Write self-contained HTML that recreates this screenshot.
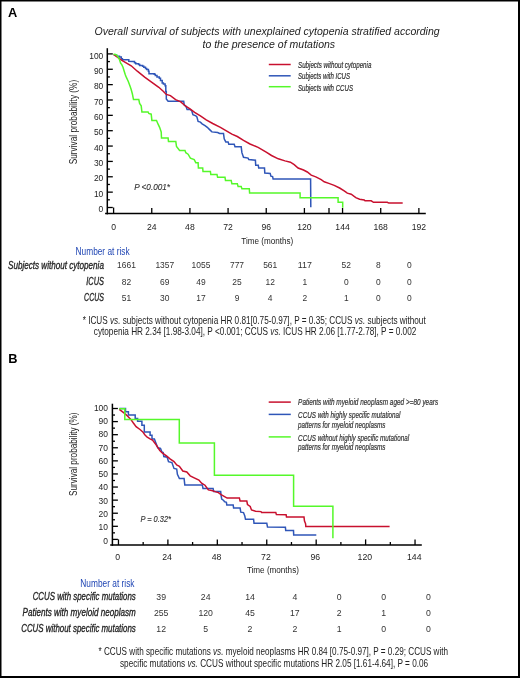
<!DOCTYPE html>
<html><head><meta charset="utf-8"><style>
html,body{margin:0;padding:0;background:#fff;width:520px;height:678px;overflow:hidden;}
#w{width:520px;height:678px;will-change:transform;filter:none;}
svg{display:block;font-family:"Liberation Sans",sans-serif;}
</style></head><body><div id="w">
<svg width="520" height="678" viewBox="0 0 520 678">
<g>
<rect x="0.75" y="0.75" width="518" height="676" fill="#fff" stroke="#000" stroke-width="1.5"/>
<line x1="0" y1="677" x2="520" y2="677" stroke="#000" stroke-width="2"/>
<line x1="519.1" y1="0" x2="519.1" y2="678" stroke="#000" stroke-width="1.8"/>
<text x="8" y="17.1" font-size="12.8" text-anchor="start" font-weight="bold" fill="#000">A</text>
<text x="8.3" y="362.7" font-size="12.8" text-anchor="start" font-weight="bold" fill="#000">B</text>
<text x="94.6" y="35.4" font-size="10.5" text-anchor="start" font-style="italic" textLength="345" lengthAdjust="spacingAndGlyphs" fill="#222">Overall survival of subjects with unexplained cytopenia stratified according</text>
<text x="202.5" y="47.6" font-size="10.5" text-anchor="start" font-style="italic" textLength="132.6" lengthAdjust="spacingAndGlyphs" fill="#222">to the presence of mutations</text>
<line x1="107.3" y1="48.2" x2="107.3" y2="214.35" stroke="#000" stroke-width="1.5"/>
<line x1="105.1" y1="213.6" x2="425.8" y2="213.6" stroke="#000" stroke-width="1.5"/>
<line x1="107.3" y1="207.50" x2="112.8" y2="207.50" stroke="#000" stroke-width="1.3"/>
<line x1="107.3" y1="199.82" x2="109.89999999999999" y2="199.82" stroke="#000" stroke-width="1.3"/>
<text x="103.3" y="212.10" font-size="9.4" text-anchor="end" textLength="4.7" lengthAdjust="spacingAndGlyphs" fill="#222">0</text>
<line x1="107.3" y1="192.14" x2="112.8" y2="192.14" stroke="#000" stroke-width="1.3"/>
<line x1="107.3" y1="184.46" x2="109.89999999999999" y2="184.46" stroke="#000" stroke-width="1.3"/>
<text x="103.3" y="196.75" font-size="9.4" text-anchor="end" textLength="9.4" lengthAdjust="spacingAndGlyphs" fill="#222">10</text>
<line x1="107.3" y1="176.78" x2="112.8" y2="176.78" stroke="#000" stroke-width="1.3"/>
<line x1="107.3" y1="169.10" x2="109.89999999999999" y2="169.10" stroke="#000" stroke-width="1.3"/>
<text x="103.3" y="181.40" font-size="9.4" text-anchor="end" textLength="9.4" lengthAdjust="spacingAndGlyphs" fill="#222">20</text>
<line x1="107.3" y1="161.42" x2="112.8" y2="161.42" stroke="#000" stroke-width="1.3"/>
<line x1="107.3" y1="153.74" x2="109.89999999999999" y2="153.74" stroke="#000" stroke-width="1.3"/>
<text x="103.3" y="166.05" font-size="9.4" text-anchor="end" textLength="9.4" lengthAdjust="spacingAndGlyphs" fill="#222">30</text>
<line x1="107.3" y1="146.06" x2="112.8" y2="146.06" stroke="#000" stroke-width="1.3"/>
<line x1="107.3" y1="138.38" x2="109.89999999999999" y2="138.38" stroke="#000" stroke-width="1.3"/>
<text x="103.3" y="150.70" font-size="9.4" text-anchor="end" textLength="9.4" lengthAdjust="spacingAndGlyphs" fill="#222">40</text>
<line x1="107.3" y1="130.70" x2="112.8" y2="130.70" stroke="#000" stroke-width="1.3"/>
<line x1="107.3" y1="123.02" x2="109.89999999999999" y2="123.02" stroke="#000" stroke-width="1.3"/>
<text x="103.3" y="135.35" font-size="9.4" text-anchor="end" textLength="9.4" lengthAdjust="spacingAndGlyphs" fill="#222">50</text>
<line x1="107.3" y1="115.34" x2="112.8" y2="115.34" stroke="#000" stroke-width="1.3"/>
<line x1="107.3" y1="107.66" x2="109.89999999999999" y2="107.66" stroke="#000" stroke-width="1.3"/>
<text x="103.3" y="120.00" font-size="9.4" text-anchor="end" textLength="9.4" lengthAdjust="spacingAndGlyphs" fill="#222">60</text>
<line x1="107.3" y1="99.98" x2="112.8" y2="99.98" stroke="#000" stroke-width="1.3"/>
<line x1="107.3" y1="92.30" x2="109.89999999999999" y2="92.30" stroke="#000" stroke-width="1.3"/>
<text x="103.3" y="104.65" font-size="9.4" text-anchor="end" textLength="9.4" lengthAdjust="spacingAndGlyphs" fill="#222">70</text>
<line x1="107.3" y1="84.62" x2="112.8" y2="84.62" stroke="#000" stroke-width="1.3"/>
<line x1="107.3" y1="76.94" x2="109.89999999999999" y2="76.94" stroke="#000" stroke-width="1.3"/>
<text x="103.3" y="89.30" font-size="9.4" text-anchor="end" textLength="9.4" lengthAdjust="spacingAndGlyphs" fill="#222">80</text>
<line x1="107.3" y1="69.26" x2="112.8" y2="69.26" stroke="#000" stroke-width="1.3"/>
<line x1="107.3" y1="61.58" x2="109.89999999999999" y2="61.58" stroke="#000" stroke-width="1.3"/>
<text x="103.3" y="73.95" font-size="9.4" text-anchor="end" textLength="9.4" lengthAdjust="spacingAndGlyphs" fill="#222">90</text>
<line x1="107.3" y1="53.90" x2="112.8" y2="53.90" stroke="#000" stroke-width="1.3"/>
<text x="103.3" y="58.60" font-size="9.4" text-anchor="end" textLength="14.1" lengthAdjust="spacingAndGlyphs" fill="#222">100</text>
<line x1="113.60" y1="207.50" x2="113.60" y2="213.5" stroke="#000" stroke-width="1.3"/>
<text x="113.60" y="230.4" font-size="9.2" text-anchor="middle" textLength="4.8" lengthAdjust="spacingAndGlyphs" fill="#222">0</text>
<line x1="151.76" y1="208.00" x2="151.76" y2="213.5" stroke="#000" stroke-width="1.3"/>
<text x="151.76" y="230.4" font-size="9.2" text-anchor="middle" textLength="9.6" lengthAdjust="spacingAndGlyphs" fill="#222">24</text>
<line x1="189.92" y1="208.00" x2="189.92" y2="213.5" stroke="#000" stroke-width="1.3"/>
<text x="189.92" y="230.4" font-size="9.2" text-anchor="middle" textLength="9.6" lengthAdjust="spacingAndGlyphs" fill="#222">48</text>
<line x1="228.08" y1="208.00" x2="228.08" y2="213.5" stroke="#000" stroke-width="1.3"/>
<text x="228.08" y="230.4" font-size="9.2" text-anchor="middle" textLength="9.6" lengthAdjust="spacingAndGlyphs" fill="#222">72</text>
<line x1="266.24" y1="208.00" x2="266.24" y2="213.5" stroke="#000" stroke-width="1.3"/>
<text x="266.24" y="230.4" font-size="9.2" text-anchor="middle" textLength="9.6" lengthAdjust="spacingAndGlyphs" fill="#222">96</text>
<line x1="304.40" y1="208.00" x2="304.40" y2="213.5" stroke="#000" stroke-width="1.3"/>
<text x="304.40" y="230.4" font-size="9.2" text-anchor="middle" textLength="14.399999999999999" lengthAdjust="spacingAndGlyphs" fill="#222">120</text>
<line x1="342.56" y1="208.00" x2="342.56" y2="213.5" stroke="#000" stroke-width="1.3"/>
<text x="342.56" y="230.4" font-size="9.2" text-anchor="middle" textLength="14.399999999999999" lengthAdjust="spacingAndGlyphs" fill="#222">144</text>
<line x1="380.72" y1="208.00" x2="380.72" y2="213.5" stroke="#000" stroke-width="1.3"/>
<text x="380.72" y="230.4" font-size="9.2" text-anchor="middle" textLength="14.399999999999999" lengthAdjust="spacingAndGlyphs" fill="#222">168</text>
<line x1="418.88" y1="208.00" x2="418.88" y2="213.5" stroke="#000" stroke-width="1.3"/>
<text x="418.88" y="230.4" font-size="9.2" text-anchor="middle" textLength="14.399999999999999" lengthAdjust="spacingAndGlyphs" fill="#222">192</text>
<line x1="329" y1="208" x2="329" y2="213.5" stroke="#000" stroke-width="1.3"/>
<text x="241.3" y="243.7" font-size="9.6" text-anchor="start" textLength="52" lengthAdjust="spacingAndGlyphs" fill="#222">Time (months)</text>
<text transform="translate(77.3,164.3) rotate(-90)" font-size="10.5" textLength="84.5" lengthAdjust="spacingAndGlyphs" fill="#222">Survival probability (%)</text>
<text x="134.2" y="190.0" font-size="8.2" text-anchor="start" font-style="italic" textLength="35.8" lengthAdjust="spacingAndGlyphs" fill="#333" stroke="#333" stroke-width="0.12">P &lt;0.001*</text>
<line x1="268.8" y1="64.5" x2="290.7" y2="64.5" stroke="#c8102e" stroke-width="1.5"/>
<line x1="268.8" y1="75.8" x2="290.7" y2="75.8" stroke="#2f56b8" stroke-width="1.5"/>
<line x1="268.8" y1="86.7" x2="290.7" y2="86.7" stroke="#55f82a" stroke-width="1.5"/>
<text x="298" y="68" font-size="8.2" text-anchor="start" font-style="italic" textLength="73.4" lengthAdjust="spacingAndGlyphs" fill="#333" stroke="#333" stroke-width="0.2">Subjects without cytopenia</text>
<text x="298" y="79.1" font-size="8.2" text-anchor="start" font-style="italic" textLength="52" lengthAdjust="spacingAndGlyphs" fill="#333" stroke="#333" stroke-width="0.2">Subjects with ICUS</text>
<text x="298" y="90.6" font-size="8.2" text-anchor="start" font-style="italic" textLength="55" lengthAdjust="spacingAndGlyphs" fill="#333" stroke="#333" stroke-width="0.2">Subjects with CCUS</text>
<polyline points="113.8,55.2 116.7,55.2 116.7,56.3 119.5,56.3 119.5,56.9 121.3,56.9 121.3,58.7 122.4,58.7 122.4,59.8 128.2,59.8 128.8,59.8 128.8,61.3 132.2,61.5 134.5,61.5 134.5,62.7 135.7,62.7 135.7,63.8 138.6,63.8 138.6,64.4 139.7,64.4 139.7,65.6 142.6,65.6 142.6,66.2 143.8,66.2 143.8,67.3 145.5,67.3 145.5,68.5 146.7,68.5 146.7,69.6 148.4,69.6 148.4,71.3 149.0,71.3 149.0,73.7 151.8,73.7 154.2,73.7 154.2,74.2 155.3,74.2 155.3,75.4 157.0,75.4 157.0,77.1 159.3,77.1 159.3,78.3 160.5,78.3 160.5,80.6 162.2,80.6 162.2,82.9 163.4,82.9 163.4,84.0 165.1,84.0 165.1,85.8 165.8,85.8 165.8,91.5 166.3,91.5 166.3,99.0 168.1,101.3 183.7,101.3 184.2,104.8 186.0,106.5 187.1,109.4 190.0,109.4 191.7,110.6 192.9,114.6 195.8,115.8 196.9,116.9 198.1,121.5 200.4,122.1 202.1,123.8 205.0,125.6 207.3,127.3 209.6,129.6 211.9,131.9 217.7,132.5 219.6,133.5 223.5,133.5 224.2,138.8 225.8,141.9 228.1,141.9 228.8,144.2 234.2,144.2 235.0,146.8 241.2,146.8 241.9,152.7 243.5,157.3 248.1,158.1 248.8,159.6 255.4,160.2 255.7,165.3 258.3,165.3 258.7,168.0 264.5,168.0 264.8,173.0 270.2,173.4 270.9,176.1 272.6,176.6 273.1,179.0 310.6,179.0 310.8,207.3" fill="none" stroke="#2f56b8" stroke-width="1.5" stroke-linejoin="miter"/>
<polyline points="113.5,54.5 121.9,60.4 131.2,65.8 137.3,71.2 145.0,77.3 151.2,81.9 158.8,87.3 163.5,91.5 166.3,94.4 170.4,95.6 175.6,99.6 180.8,101.9 185.4,106.0 190.0,108.8 194.6,112.3 200.4,115.8 206.2,119.8 212.7,123.5 220.4,127.3 231.9,134.2 237.3,136.5 243.5,140.4 250.0,144.0 258.1,147.4 266.2,152.1 271.5,155.5 278.3,158.8 285.0,160.9 290.4,162.2 294.2,164.6 298.1,168.0 303.5,170.0 307.3,172.0 311.2,175.1 315.8,176.9 321.2,179.7 324.2,181.8 328.8,183.4 334.2,185.4 339.6,188.0 344.2,190.8 347.3,193.1 351.2,194.2 355.8,197.7 359.6,199.2 364.2,200.0 365.0,200.8 371.2,200.8 373.5,202.3 387.3,202.3 388.8,203.1 402.7,203.1" fill="none" stroke="#c8102e" stroke-width="1.5" stroke-linejoin="miter"/>
<polyline points="113.5,54.6 114.9,54.3 116.7,55.2 118.4,57.5 119.5,59.8 120.7,63.3 121.8,64.6 123.0,67.3 124.2,71.3 125.3,74.8 126.5,77.7 128.2,81.2 129.9,85.8 131.1,89.2 132.4,94.0 133.5,99.6 138.8,99.6 139.6,103.5 141.2,105.8 141.9,111.9 148.1,111.9 148.8,113.5 151.2,114.2 151.9,120.4 156.5,120.4 158.1,124.2 159.6,127.3 161.2,131.9 161.5,138.1 168.1,138.1 168.5,141.6 175.8,141.6 176.5,146.5 179.6,150.4 185.0,150.4 185.8,152.7 188.1,154.2 190.4,158.1 194.2,159.6 195.8,162.7 198.1,162.7 198.4,168.1 202.7,168.1 203.0,171.5 210.4,171.5 210.8,174.5 217.0,174.5 217.6,177.3 225.0,177.3 225.5,180.4 231.2,180.4 231.9,183.8 237.3,183.8 238.1,186.5 241.2,186.5 241.9,188.8 249.3,188.8 249.6,193.0 300.1,193.0 300.1,197.7 338.1,197.7 338.1,202.3 342.7,202.3 342.7,207.7" fill="none" stroke="#55f82a" stroke-width="1.5" stroke-linejoin="miter"/>
<text x="75.6" y="255" font-size="10.2" text-anchor="start" textLength="54" lengthAdjust="spacingAndGlyphs" fill="#2046b4">Number at risk</text>
<text x="103.9" y="269.0" font-size="10.4" text-anchor="end" font-style="italic" textLength="95.9" lengthAdjust="spacingAndGlyphs" fill="#222" stroke="#222" stroke-width="0.3">Subjects without cytopenia</text>
<text x="126.5" y="268.3" font-size="9" text-anchor="middle" textLength="18.8" lengthAdjust="spacingAndGlyphs" fill="#333">1661</text>
<text x="164.8" y="268.3" font-size="9" text-anchor="middle" textLength="18.8" lengthAdjust="spacingAndGlyphs" fill="#333">1357</text>
<text x="201" y="268.3" font-size="9" text-anchor="middle" textLength="18.8" lengthAdjust="spacingAndGlyphs" fill="#333">1055</text>
<text x="237" y="268.3" font-size="9" text-anchor="middle" textLength="14.100000000000001" lengthAdjust="spacingAndGlyphs" fill="#333">777</text>
<text x="270.2" y="268.3" font-size="9" text-anchor="middle" textLength="14.100000000000001" lengthAdjust="spacingAndGlyphs" fill="#333">561</text>
<text x="304.8" y="268.3" font-size="9" text-anchor="middle" textLength="14.100000000000001" lengthAdjust="spacingAndGlyphs" fill="#333">117</text>
<text x="346.3" y="268.3" font-size="9" text-anchor="middle" textLength="9.4" lengthAdjust="spacingAndGlyphs" fill="#333">52</text>
<text x="378.4" y="268.3" font-size="9" text-anchor="middle" textLength="4.7" lengthAdjust="spacingAndGlyphs" fill="#333">8</text>
<text x="409.3" y="268.3" font-size="9" text-anchor="middle" textLength="4.7" lengthAdjust="spacingAndGlyphs" fill="#333">0</text>
<text x="103.9" y="284.7" font-size="10.4" text-anchor="end" font-style="italic" textLength="17.6" lengthAdjust="spacingAndGlyphs" fill="#222" stroke="#222" stroke-width="0.3">ICUS</text>
<text x="126.5" y="284.7" font-size="9" text-anchor="middle" textLength="9.4" lengthAdjust="spacingAndGlyphs" fill="#333">82</text>
<text x="164.8" y="284.7" font-size="9" text-anchor="middle" textLength="9.4" lengthAdjust="spacingAndGlyphs" fill="#333">69</text>
<text x="201" y="284.7" font-size="9" text-anchor="middle" textLength="9.4" lengthAdjust="spacingAndGlyphs" fill="#333">49</text>
<text x="237" y="284.7" font-size="9" text-anchor="middle" textLength="9.4" lengthAdjust="spacingAndGlyphs" fill="#333">25</text>
<text x="270.2" y="284.7" font-size="9" text-anchor="middle" textLength="9.4" lengthAdjust="spacingAndGlyphs" fill="#333">12</text>
<text x="304.8" y="284.7" font-size="9" text-anchor="middle" textLength="4.7" lengthAdjust="spacingAndGlyphs" fill="#333">1</text>
<text x="346.3" y="284.7" font-size="9" text-anchor="middle" textLength="4.7" lengthAdjust="spacingAndGlyphs" fill="#333">0</text>
<text x="378.4" y="284.7" font-size="9" text-anchor="middle" textLength="4.7" lengthAdjust="spacingAndGlyphs" fill="#333">0</text>
<text x="409.3" y="284.7" font-size="9" text-anchor="middle" textLength="4.7" lengthAdjust="spacingAndGlyphs" fill="#333">0</text>
<text x="103.9" y="300.9" font-size="10.4" text-anchor="end" font-style="italic" textLength="19.8" lengthAdjust="spacingAndGlyphs" fill="#222" stroke="#222" stroke-width="0.3">CCUS</text>
<text x="126.5" y="301.1" font-size="9" text-anchor="middle" textLength="9.4" lengthAdjust="spacingAndGlyphs" fill="#333">51</text>
<text x="164.8" y="301.1" font-size="9" text-anchor="middle" textLength="9.4" lengthAdjust="spacingAndGlyphs" fill="#333">30</text>
<text x="201" y="301.1" font-size="9" text-anchor="middle" textLength="9.4" lengthAdjust="spacingAndGlyphs" fill="#333">17</text>
<text x="237" y="301.1" font-size="9" text-anchor="middle" textLength="4.7" lengthAdjust="spacingAndGlyphs" fill="#333">9</text>
<text x="270.2" y="301.1" font-size="9" text-anchor="middle" textLength="4.7" lengthAdjust="spacingAndGlyphs" fill="#333">4</text>
<text x="304.8" y="301.1" font-size="9" text-anchor="middle" textLength="4.7" lengthAdjust="spacingAndGlyphs" fill="#333">2</text>
<text x="346.3" y="301.1" font-size="9" text-anchor="middle" textLength="4.7" lengthAdjust="spacingAndGlyphs" fill="#333">1</text>
<text x="378.4" y="301.1" font-size="9" text-anchor="middle" textLength="4.7" lengthAdjust="spacingAndGlyphs" fill="#333">0</text>
<text x="409.3" y="301.1" font-size="9" text-anchor="middle" textLength="4.7" lengthAdjust="spacingAndGlyphs" fill="#333">0</text>
<text x="82.7" y="323.5" font-size="10.3" text-anchor="start" textLength="343" lengthAdjust="spacingAndGlyphs" fill="#222">* ICUS <tspan font-style="italic">vs.</tspan> subjects without cytopenia HR 0.81[0.75-0.97], P = 0.35; CCUS <tspan font-style="italic">vs.</tspan> subjects without</text>
<text x="93.8" y="335.1" font-size="10.3" text-anchor="start" textLength="322.5" lengthAdjust="spacingAndGlyphs" fill="#222">cytopenia HR 2.34 [1.98-3.04], P &lt;0.001; CCUS <tspan font-style="italic">vs.</tspan> ICUS HR 2.06 [1.77-2.78], P = 0.002</text>
<line x1="112.4" y1="403.7" x2="112.4" y2="545.85" stroke="#000" stroke-width="1.5"/>
<line x1="110.2" y1="545.1" x2="421.8" y2="545.1" stroke="#000" stroke-width="1.5"/>
<line x1="112.4" y1="539.40" x2="117.9" y2="539.40" stroke="#000" stroke-width="1.3"/>
<line x1="112.4" y1="532.86" x2="115.0" y2="532.86" stroke="#000" stroke-width="1.3"/>
<text x="108.0" y="543.50" font-size="9.4" text-anchor="end" textLength="4.7" lengthAdjust="spacingAndGlyphs" fill="#222">0</text>
<line x1="112.4" y1="526.31" x2="117.9" y2="526.31" stroke="#000" stroke-width="1.3"/>
<line x1="112.4" y1="519.76" x2="115.0" y2="519.76" stroke="#000" stroke-width="1.3"/>
<text x="108.0" y="530.24" font-size="9.4" text-anchor="end" textLength="9.4" lengthAdjust="spacingAndGlyphs" fill="#222">10</text>
<line x1="112.4" y1="513.22" x2="117.9" y2="513.22" stroke="#000" stroke-width="1.3"/>
<line x1="112.4" y1="506.68" x2="115.0" y2="506.68" stroke="#000" stroke-width="1.3"/>
<text x="108.0" y="516.98" font-size="9.4" text-anchor="end" textLength="9.4" lengthAdjust="spacingAndGlyphs" fill="#222">20</text>
<line x1="112.4" y1="500.13" x2="117.9" y2="500.13" stroke="#000" stroke-width="1.3"/>
<line x1="112.4" y1="493.58" x2="115.0" y2="493.58" stroke="#000" stroke-width="1.3"/>
<text x="108.0" y="503.72" font-size="9.4" text-anchor="end" textLength="9.4" lengthAdjust="spacingAndGlyphs" fill="#222">30</text>
<line x1="112.4" y1="487.04" x2="117.9" y2="487.04" stroke="#000" stroke-width="1.3"/>
<line x1="112.4" y1="480.49" x2="115.0" y2="480.49" stroke="#000" stroke-width="1.3"/>
<text x="108.0" y="490.46" font-size="9.4" text-anchor="end" textLength="9.4" lengthAdjust="spacingAndGlyphs" fill="#222">40</text>
<line x1="112.4" y1="473.95" x2="117.9" y2="473.95" stroke="#000" stroke-width="1.3"/>
<line x1="112.4" y1="467.40" x2="115.0" y2="467.40" stroke="#000" stroke-width="1.3"/>
<text x="108.0" y="477.20" font-size="9.4" text-anchor="end" textLength="9.4" lengthAdjust="spacingAndGlyphs" fill="#222">50</text>
<line x1="112.4" y1="460.86" x2="117.9" y2="460.86" stroke="#000" stroke-width="1.3"/>
<line x1="112.4" y1="454.31" x2="115.0" y2="454.31" stroke="#000" stroke-width="1.3"/>
<text x="108.0" y="463.94" font-size="9.4" text-anchor="end" textLength="9.4" lengthAdjust="spacingAndGlyphs" fill="#222">60</text>
<line x1="112.4" y1="447.77" x2="117.9" y2="447.77" stroke="#000" stroke-width="1.3"/>
<line x1="112.4" y1="441.22" x2="115.0" y2="441.22" stroke="#000" stroke-width="1.3"/>
<text x="108.0" y="450.68" font-size="9.4" text-anchor="end" textLength="9.4" lengthAdjust="spacingAndGlyphs" fill="#222">70</text>
<line x1="112.4" y1="434.68" x2="117.9" y2="434.68" stroke="#000" stroke-width="1.3"/>
<line x1="112.4" y1="428.13" x2="115.0" y2="428.13" stroke="#000" stroke-width="1.3"/>
<text x="108.0" y="437.42" font-size="9.4" text-anchor="end" textLength="9.4" lengthAdjust="spacingAndGlyphs" fill="#222">80</text>
<line x1="112.4" y1="421.59" x2="117.9" y2="421.59" stroke="#000" stroke-width="1.3"/>
<line x1="112.4" y1="415.04" x2="115.0" y2="415.04" stroke="#000" stroke-width="1.3"/>
<text x="108.0" y="424.16" font-size="9.4" text-anchor="end" textLength="9.4" lengthAdjust="spacingAndGlyphs" fill="#222">90</text>
<line x1="112.4" y1="408.50" x2="117.9" y2="408.50" stroke="#000" stroke-width="1.3"/>
<text x="108.0" y="410.90" font-size="9.4" text-anchor="end" textLength="14.1" lengthAdjust="spacingAndGlyphs" fill="#222">100</text>
<line x1="118.46" y1="539.4" x2="118.46" y2="545" stroke="#000" stroke-width="1.3"/>
<line x1="143.17" y1="542" x2="143.17" y2="545" stroke="#000" stroke-width="1.3"/>
<text x="117.66" y="559.8" font-size="9.2" text-anchor="middle" textLength="4.85" lengthAdjust="spacingAndGlyphs" fill="#222">0</text>
<line x1="167.89" y1="539.4" x2="167.89" y2="545" stroke="#000" stroke-width="1.3"/>
<line x1="192.60" y1="542" x2="192.60" y2="545" stroke="#000" stroke-width="1.3"/>
<text x="167.09" y="559.8" font-size="9.2" text-anchor="middle" textLength="9.7" lengthAdjust="spacingAndGlyphs" fill="#222">24</text>
<line x1="217.32" y1="539.4" x2="217.32" y2="545" stroke="#000" stroke-width="1.3"/>
<line x1="242.03" y1="542" x2="242.03" y2="545" stroke="#000" stroke-width="1.3"/>
<text x="216.52" y="559.8" font-size="9.2" text-anchor="middle" textLength="9.7" lengthAdjust="spacingAndGlyphs" fill="#222">48</text>
<line x1="266.75" y1="539.4" x2="266.75" y2="545" stroke="#000" stroke-width="1.3"/>
<line x1="291.46" y1="542" x2="291.46" y2="545" stroke="#000" stroke-width="1.3"/>
<text x="265.95" y="559.8" font-size="9.2" text-anchor="middle" textLength="9.7" lengthAdjust="spacingAndGlyphs" fill="#222">72</text>
<line x1="316.18" y1="539.4" x2="316.18" y2="545" stroke="#000" stroke-width="1.3"/>
<line x1="340.89" y1="542" x2="340.89" y2="545" stroke="#000" stroke-width="1.3"/>
<text x="315.38" y="559.8" font-size="9.2" text-anchor="middle" textLength="9.7" lengthAdjust="spacingAndGlyphs" fill="#222">96</text>
<line x1="365.61" y1="539.4" x2="365.61" y2="545" stroke="#000" stroke-width="1.3"/>
<line x1="390.32" y1="542" x2="390.32" y2="545" stroke="#000" stroke-width="1.3"/>
<text x="364.81" y="559.8" font-size="9.2" text-anchor="middle" textLength="14.549999999999999" lengthAdjust="spacingAndGlyphs" fill="#222">120</text>
<line x1="415.04" y1="539.4" x2="415.04" y2="545" stroke="#000" stroke-width="1.3"/>
<text x="414.24" y="559.8" font-size="9.2" text-anchor="middle" textLength="14.549999999999999" lengthAdjust="spacingAndGlyphs" fill="#222">144</text>
<text x="246.9" y="573.1" font-size="9.6" text-anchor="start" textLength="52" lengthAdjust="spacingAndGlyphs" fill="#222">Time (months)</text>
<text transform="translate(76.6,495.9) rotate(-90)" font-size="10.5" textLength="83.4" lengthAdjust="spacingAndGlyphs" fill="#222">Survival probability (%)</text>
<text x="140.4" y="521.6" font-size="8.2" text-anchor="start" font-style="italic" textLength="30.6" lengthAdjust="spacingAndGlyphs" fill="#333" stroke="#333" stroke-width="0.12">P = 0.32*</text>
<line x1="268.7" y1="402.1" x2="290.8" y2="402.1" stroke="#c8102e" stroke-width="1.5"/>
<line x1="268.7" y1="414.4" x2="290.8" y2="414.4" stroke="#2f56b8" stroke-width="1.5"/>
<line x1="268.7" y1="436.9" x2="290.8" y2="436.9" stroke="#55f82a" stroke-width="1.5"/>
<text x="298.1" y="405.4" font-size="8.6" text-anchor="start" font-style="italic" textLength="140" lengthAdjust="spacingAndGlyphs" fill="#333" stroke="#333" stroke-width="0.2">Patients with myeloid neoplasm aged &gt;=80 years</text>
<text x="298.1" y="417.6" font-size="8.6" text-anchor="start" font-style="italic" textLength="102.4" lengthAdjust="spacingAndGlyphs" fill="#333" stroke="#333" stroke-width="0.2">CCUS with highly specific mutational</text>
<text x="298.1" y="427.7" font-size="8.6" text-anchor="start" font-style="italic" textLength="87.4" lengthAdjust="spacingAndGlyphs" fill="#333" stroke="#333" stroke-width="0.2">patterns for myeloid neoplasms</text>
<text x="298.1" y="440.7" font-size="8.6" text-anchor="start" font-style="italic" textLength="111" lengthAdjust="spacingAndGlyphs" fill="#333" stroke="#333" stroke-width="0.2">CCUS without highly specific mutational</text>
<text x="298.1" y="450.2" font-size="8.6" text-anchor="start" font-style="italic" textLength="87.4" lengthAdjust="spacingAndGlyphs" fill="#333" stroke="#333" stroke-width="0.2">patterns for myeloid neoplasms</text>
<polyline points="119.4,408.6 125.5,408.6 125.5,411.7 128.4,411.7 128.4,415.1 135.2,415.1 135.2,418.4 137.6,418.4 137.6,421.3 141.9,421.3 141.9,425.2 144.3,425.2 144.3,431.9 150.1,431.9 150.1,435.3 152.0,435.3 152.0,439.1 154.4,439.1 155.8,442.8 157.8,447.8 160.5,448.5 161.8,451.8 163.2,452.5 163.8,456.5 167.2,457.2 168.5,461.6 171.9,462.6 174.0,468.4 176.7,469.0 177.4,474.4 179.4,478.5 184.1,478.5 184.8,484.9 202.3,484.9 203.0,488.5 213.1,488.5 213.7,491.6 220.7,491.6 221.1,495.7 221.7,499.0 223.7,500.4 224.4,501.7 226.4,502.4 226.8,505.1 233.2,505.1 233.6,508.1 240.1,508.1 240.8,512.2 243.5,512.6 244.8,516.0 245.5,519.3 253.6,519.3 254.0,523.3 266.8,523.3 267.5,527.1 285.4,527.2 285.7,530.6 293.5,530.6 293.7,534.9 316.3,534.9" fill="none" stroke="#2f56b8" stroke-width="1.5" stroke-linejoin="miter"/>
<polyline points="119.3,409.3 123.6,412.7 126.0,414.6 127.5,416.0 130.8,419.4 133.2,422.8 136.1,426.6 140.0,429.5 142.8,431.9 144.8,434.8 147.2,437.2 150.5,439.1 152.5,440.1 154.4,442.5 155.8,444.4 159.8,450.5 162.5,453.2 166.5,455.9 170.0,458.9 174.0,461.6 176.7,465.0 179.4,466.3 182.8,471.0 186.8,472.0 190.2,475.8 194.2,477.8 198.9,480.1 201.6,483.2 205.0,485.2 208.4,489.9 211.7,490.6 215.8,491.9 218.4,492.6 221.1,494.7 223.7,496.1 227.1,498.1 239.4,498.1 240.1,501.1 246.8,501.1 247.5,504.5 250.2,506.5 251.5,509.9 255.6,511.2 261.0,511.6 261.6,512.6 275.8,512.6 276.4,514.6 286.1,514.7 286.5,517.1 304.0,517.1 304.5,521.1 305.6,523.8 305.8,526.5 389.6,526.5" fill="none" stroke="#c8102e" stroke-width="1.5" stroke-linejoin="miter"/>
<polyline points="119.2,408.7 124.8,408.7 124.8,419.5 179.3,419.5 179.3,443.1 214.4,443.1 214.4,475.2 293.6,475.2 293.6,506.2 332.9,506.2 332.9,538.2" fill="none" stroke="#55f82a" stroke-width="1.5" stroke-linejoin="miter"/>
<text x="80.3" y="587.3" font-size="10.2" text-anchor="start" textLength="54.2" lengthAdjust="spacingAndGlyphs" fill="#2046b4">Number at risk</text>
<text x="135.8" y="600.2" font-size="10.4" text-anchor="end" font-style="italic" textLength="103.1" lengthAdjust="spacingAndGlyphs" fill="#222" stroke="#222" stroke-width="0.3">CCUS with specific mutations</text>
<text x="161.2" y="600.2" font-size="9" text-anchor="middle" textLength="9.7" lengthAdjust="spacingAndGlyphs" fill="#333">39</text>
<text x="205.7" y="600.2" font-size="9" text-anchor="middle" textLength="9.7" lengthAdjust="spacingAndGlyphs" fill="#333">24</text>
<text x="250" y="600.2" font-size="9" text-anchor="middle" textLength="9.7" lengthAdjust="spacingAndGlyphs" fill="#333">14</text>
<text x="294.8" y="600.2" font-size="9" text-anchor="middle" textLength="4.85" lengthAdjust="spacingAndGlyphs" fill="#333">4</text>
<text x="339.1" y="600.2" font-size="9" text-anchor="middle" textLength="4.85" lengthAdjust="spacingAndGlyphs" fill="#333">0</text>
<text x="383.7" y="600.2" font-size="9" text-anchor="middle" textLength="4.85" lengthAdjust="spacingAndGlyphs" fill="#333">0</text>
<text x="428.3" y="600.2" font-size="9" text-anchor="middle" textLength="4.85" lengthAdjust="spacingAndGlyphs" fill="#333">0</text>
<text x="135.8" y="616.4" font-size="10.4" text-anchor="end" font-style="italic" textLength="113.3" lengthAdjust="spacingAndGlyphs" fill="#222" stroke="#222" stroke-width="0.3">Patients with myeloid neoplasm</text>
<text x="161.2" y="616.4" font-size="9" text-anchor="middle" textLength="14.549999999999999" lengthAdjust="spacingAndGlyphs" fill="#333">255</text>
<text x="205.7" y="616.4" font-size="9" text-anchor="middle" textLength="14.549999999999999" lengthAdjust="spacingAndGlyphs" fill="#333">120</text>
<text x="250" y="616.4" font-size="9" text-anchor="middle" textLength="9.7" lengthAdjust="spacingAndGlyphs" fill="#333">45</text>
<text x="294.8" y="616.4" font-size="9" text-anchor="middle" textLength="9.7" lengthAdjust="spacingAndGlyphs" fill="#333">17</text>
<text x="339.1" y="616.4" font-size="9" text-anchor="middle" textLength="4.85" lengthAdjust="spacingAndGlyphs" fill="#333">2</text>
<text x="383.7" y="616.4" font-size="9" text-anchor="middle" textLength="4.85" lengthAdjust="spacingAndGlyphs" fill="#333">1</text>
<text x="428.3" y="616.4" font-size="9" text-anchor="middle" textLength="4.85" lengthAdjust="spacingAndGlyphs" fill="#333">0</text>
<text x="135.8" y="632.3" font-size="10.4" text-anchor="end" font-style="italic" textLength="114.6" lengthAdjust="spacingAndGlyphs" fill="#222" stroke="#222" stroke-width="0.3">CCUS without specific mutations</text>
<text x="161.2" y="632.3" font-size="9" text-anchor="middle" textLength="9.7" lengthAdjust="spacingAndGlyphs" fill="#333">12</text>
<text x="205.7" y="632.3" font-size="9" text-anchor="middle" textLength="4.85" lengthAdjust="spacingAndGlyphs" fill="#333">5</text>
<text x="250" y="632.3" font-size="9" text-anchor="middle" textLength="4.85" lengthAdjust="spacingAndGlyphs" fill="#333">2</text>
<text x="294.8" y="632.3" font-size="9" text-anchor="middle" textLength="4.85" lengthAdjust="spacingAndGlyphs" fill="#333">2</text>
<text x="339.1" y="632.3" font-size="9" text-anchor="middle" textLength="4.85" lengthAdjust="spacingAndGlyphs" fill="#333">1</text>
<text x="383.7" y="632.3" font-size="9" text-anchor="middle" textLength="4.85" lengthAdjust="spacingAndGlyphs" fill="#333">0</text>
<text x="428.3" y="632.3" font-size="9" text-anchor="middle" textLength="4.85" lengthAdjust="spacingAndGlyphs" fill="#333">0</text>
<text x="98.5" y="655.4" font-size="10.3" text-anchor="start" textLength="349.6" lengthAdjust="spacingAndGlyphs" fill="#222">* CCUS with specific mutations <tspan font-style="italic">vs.</tspan> myeloid neoplasms HR 0.84 [0.75-0.97], P = 0.29; CCUS with</text>
<text x="120" y="666.9" font-size="10.3" text-anchor="start" textLength="308.1" lengthAdjust="spacingAndGlyphs" fill="#222">specific mutations <tspan font-style="italic">vs.</tspan> CCUS without specific mutations HR 2.05 [1.61-4.64], P = 0.06</text>
</g></svg>
</div></body></html>
